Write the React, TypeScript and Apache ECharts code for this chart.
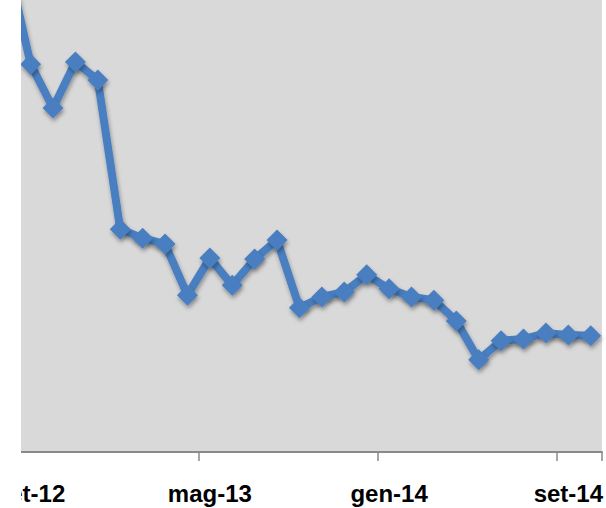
import React, { useEffect, useRef } from "react";
import * as echarts from "echarts";

const categories = [
  "ago-12", "set-12", "ott-12", "nov-12", "dic-12",
  "gen-13", "feb-13", "mar-13", "apr-13", "mag-13", "giu-13", "lug-13", "ago-13",
  "set-13", "ott-13", "nov-13", "dic-13",
  "gen-14", "feb-14", "mar-14", "apr-14", "mag-14", "giu-14", "lug-14", "ago-14",
  "set-14", "ott-14",
];

const values = [
  107.7, 85.8, 76.1, 86.3, 82.3,
  49.3, 47.3, 46.0, 34.7, 42.9, 36.9, 42.7, 46.9,
  31.9, 34.3, 35.4, 39.2,
  36.1, 34.3, 33.6, 29.0, 20.4, 24.6, 25.0, 26.3,
  25.9, 25.7,
];

const labelEvery = 8;
const labelOffset = 1;
const SHIFT = 40;

export default function App() {
  const ref = useRef<HTMLDivElement>(null);
  useEffect(() => {
    if (!ref.current) return;
    const chart = echarts.init(ref.current, null, { renderer: "svg" });
    const showIdx = (i: number) => i >= labelOffset && (i - labelOffset) % labelEvery === 0;
    chart.setOption({
      animation: false,
      backgroundColor: "#ffffff",
      grid: {
        left: SHIFT - 3,
        right: 3.5,
        top: 0,
        bottom: 56,
        show: true,
        backgroundColor: "#d9d9d9",
        borderWidth: 0,
        containLabel: false,
      },
      xAxis: {
        type: "category",
        data: categories,
        boundaryGap: true,
        axisLine: { show: true, lineStyle: { color: "#8a8a8a", width: 2 } },
        axisTick: {
          show: true,
          interval: (i: number) => showIdx(i),
          length: 9,
          lineStyle: { color: "#8a8a8a", width: 1.5 },
        },
        axisLabel: {
          interval: (i: number) => showIdx(i),
          color: "#000000",
          fontFamily: "'Liberation Sans', Arial, sans-serif",
          fontWeight: "bold",
          fontSize: 24,
          margin: 29,
          hideOverlap: false,
        },
        splitLine: { show: false },
      },
      yAxis: {
        type: "value",
        min: 0,
        max: 100,
        show: false,
        splitLine: { show: false },
      },
      series: [
        {
          type: "line",
          data: values,
          clip: true,
          symbol: "diamond",
          symbolSize: 21,
          showAllSymbol: true,
          lineStyle: {
            color: "#4a7fc1",
            width: 8,
            shadowColor: "rgba(0,0,0,0.35)",
            shadowBlur: 4,
            shadowOffsetX: 1,
            shadowOffsetY: 3,
          },
          itemStyle: {
            color: "#4a7fc1",
            borderWidth: 0,
            shadowColor: "rgba(0,0,0,0.35)",
            shadowBlur: 4,
            shadowOffsetX: 1,
            shadowOffsetY: 3,
          },
        },
      ],
      graphic: [
        {
          type: "rect",
          z: 100,
          shape: { x: 0, y: 0, width: SHIFT + 21, height: 508 },
          style: { fill: "#ffffff" },
        },
      ],
    });
    return () => chart.dispose();
  }, []);
  return (
    <div
      ref={ref}
      style={{ position: "absolute", left: -SHIFT, top: 0, width: 606 + SHIFT, height: 508 }}
    />
  );
}
